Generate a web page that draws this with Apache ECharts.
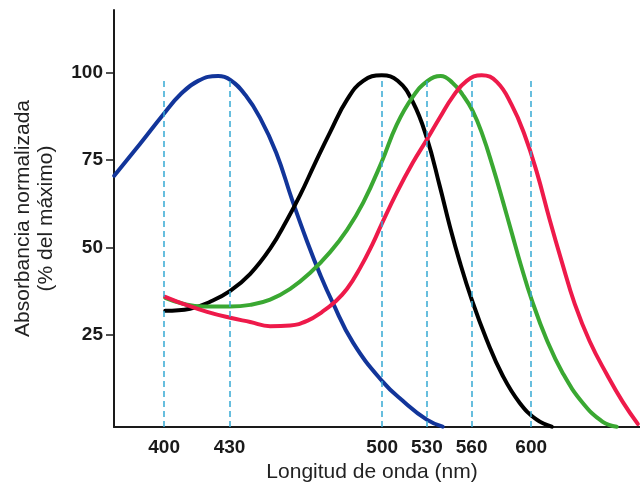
<!DOCTYPE html>
<html>
<head>
<meta charset="utf-8">
<script src="https://cdn.jsdelivr.net/npm/echarts@6/dist/echarts.min.js"></script>
<style>
  html, body { margin: 0; padding: 0; background: #fff; }
  #chart { width: 640px; height: 492px; }
</style>
</head>
<body>
<div id="chart"></div>
<script>
// Tick marks
const xTickNm = [400, 430, 500, 530, 560, 600];
const yTickValues = [25, 50, 75, 100];

// Absorbance curves: wavelength (nm) and normalized absorbance (% of max)
const blueNm  = [377.1, 389.0, 399.5, 407.3, 415.6, 424.8, 430.3, 437.2, 444.0, 451.4, 458.7, 465.6, 471.6, 477.1, 486.7, 500.3, 513.8, 529.9, 540.6];
const blueAbs = [70.5, 79.7, 88.0, 93.7, 97.7, 99.1, 98.0, 93.7, 87.1, 77.1, 63.6, 51.6, 42.1, 34.4, 22.6, 11.5, 6.0, 0.6, -1.4];

const blackNm  = [400.5, 411.9, 421.1, 430.3, 439.5, 448.6, 456.4, 462.4, 469.3, 476.2, 483.9, 491.3, 499.8, 510.4, 520.5, 529.9, 538.6, 545.3, 552.0, 560.1, 570.1, 580.9, 592.3, 603.7, 613.8];
const blackAbs = [31.8, 32.4, 34.4, 37.5, 42.4, 49.6, 57.9, 65.0, 74.2, 83.1, 92.3, 97.7, 99.3, 97.7, 91.7, 81.4, 67.6, 56.2, 45.9, 35.0, 23.5, 13.2, 5.4, 0.6, -1.4];

const greenNm  = [400.5, 408.7, 417.9, 430.3, 439.5, 448.6, 457.8, 467.0, 476.2, 483.9, 491.3, 499.8, 509.7, 520.5, 530.5, 539.3, 547.3, 554.0, 560.7, 567.5, 574.2, 580.9, 586.9, 593.0, 600.3, 610.4, 621.1, 634.6, 648.0, 657.4];
const greenAbs = [35.5, 33.8, 33.0, 33.0, 33.5, 35.0, 38.1, 42.7, 48.7, 55.0, 62.8, 74.5, 85.1, 93.1, 97.7, 99.1, 97.1, 93.7, 89.1, 82.0, 73.1, 63.3, 54.2, 45.0, 35.0, 23.5, 14.0, 5.4, 0.0, -1.4];

const redNm  = [400.5, 408.7, 419.7, 430.3, 439.5, 448.6, 457.8, 465.6, 472.5, 478.4, 483.9, 489.9, 495.4, 499.8, 509.7, 520.5, 529.9, 538.6, 547.3, 556.7, 566.8, 576.9, 586.9, 595.6, 603.7, 612.4, 620.5, 629.2, 639.3, 650.7, 661.4, 671.5];
const redAbs = [35.8, 33.8, 31.5, 29.8, 28.6, 27.4, 27.6, 28.9, 31.5, 34.4, 38.1, 44.1, 50.7, 56.7, 65.6, 74.2, 80.8, 87.1, 93.1, 97.7, 99.3, 97.4, 90.8, 82.2, 71.6, 57.9, 45.9, 33.8, 23.0, 13.6, 5.7, -0.6];

// The wavelength axis is stretched below 500 nm and compressed above it.
const BREAK_NM = 500;
const LONG_SIDE_FACTOR = 0.6835;
function toAxis(nm) {
  return nm <= BREAK_NM ? nm : BREAK_NM + (nm - BREAK_NM) * LONG_SIDE_FACTOR;
}
function fromAxis(u) {
  return u <= BREAK_NM ? u : BREAK_NM + (u - BREAK_NM) / LONG_SIDE_FACTOR;
}
function pairs(nms, vals) {
  return nms.map((nm, i) => [toAxis(nm), vals[i]]);
}

const X_MIN_NM = 377, X_MAX_NM = 673;
const Y_MIN = -1.5, Y_MAX = 118;
const GUIDE_TOP = 98.5;

const FONT = '"Liberation Sans", Arial, Helvetica, sans-serif';

function curve(name, color, nms, vals) {
  return {
    name, type: 'line', data: pairs(nms, vals),
    smooth: 0.45, showSymbol: false, silent: true, z: 3,
    lineStyle: { color, width: 4, cap: 'round', join: 'round' }
  };
}

const chart = echarts.init(document.getElementById('chart'), null, { renderer: 'canvas' });
chart.setOption({
  animation: false,
  backgroundColor: '#ffffff',
  grid: { left: 114, right: 0, top: 10, bottom: 65 },
  xAxis: {
    type: 'value',
    min: toAxis(X_MIN_NM), max: toAxis(X_MAX_NM),
    name: 'Longitud de onda (nm)',
    nameLocation: 'middle', nameGap: 35,
    nameTextStyle: { fontFamily: FONT, fontSize: 21, color: '#222', padding: [0, 10, 0, 0] },
    axisLine: { onZero: false, lineStyle: { color: '#1a1a1a', width: 2 } },
    axisTick: { show: false },
    splitLine: { show: false },
    axisLabel: {
      customValues: xTickNm.map(toAxis),
      formatter: v => String(Math.round(fromAxis(v))),
      fontFamily: FONT, fontSize: 19, fontWeight: 'bold', color: '#1a1a1a', margin: 11
    }
  },
  yAxis: {
    type: 'value', min: Y_MIN, max: Y_MAX,
    name: 'Absorbancia normalizada\n(% del máximo)',
    nameLocation: 'middle', nameGap: 56, nameRotate: 90,
    nameTextStyle: { fontFamily: FONT, fontSize: 21, color: '#222', lineHeight: 23, align: 'center' },
    axisLine: { show: true, lineStyle: { color: '#1a1a1a', width: 2 } },
    axisTick: { show: true, inside: false, length: 8, customValues: yTickValues, lineStyle: { color: '#1a1a1a', width: 1.5 } },
    splitLine: { show: false },
    axisLabel: {
      customValues: yTickValues,
      fontFamily: FONT, fontSize: 19, fontWeight: 'bold', color: '#1a1a1a', margin: 11
    }
  },
  series: [
    {
      type: 'line', data: [], silent: true, z: 1,
      markLine: {
        silent: true, symbol: 'none', animation: false,
        label: { show: false },
        lineStyle: { color: '#36a9d3', width: 1.5, type: [6, 4] },
        data: xTickNm.map(nm => [{ coord: [toAxis(nm), Y_MIN] }, { coord: [toAxis(nm), GUIDE_TOP] }])
      }
    },
    curve('S', '#12359a', blueNm, blueAbs),
    curve('Bastón', '#000000', blackNm, blackAbs),
    curve('M', '#3aa832', greenNm, greenAbs),
    curve('L', '#ee1a4a', redNm, redAbs)
  ]
});
</script>
</body>
</html>
